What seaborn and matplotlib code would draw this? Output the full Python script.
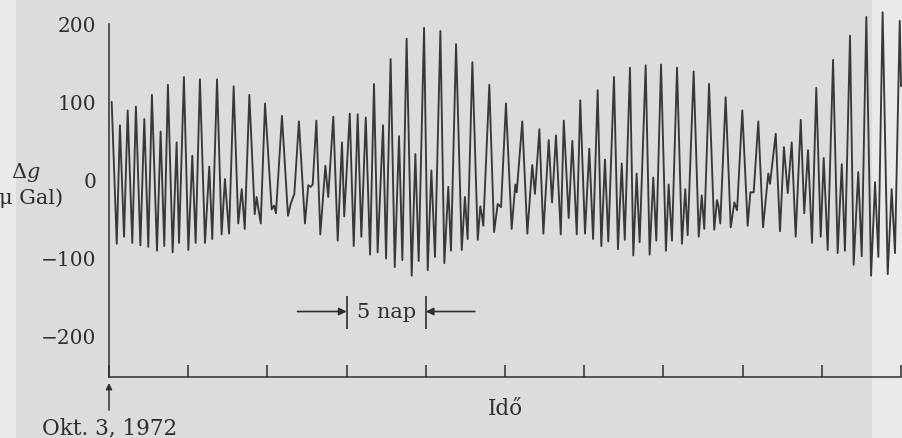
import pandas as pd
import matplotlib.pyplot as plt
import seaborn as sns
from matplotlib.patches import Rectangle

# tidal gravity record (time in days from Okt. 3)
days = [
    0.17, 0.49, 0.69, 0.95, 1.18, 1.47, 1.70, 1.98, 2.23, 2.48,
    2.71, 3.03, 3.26, 3.49, 3.72, 4.02, 4.27, 4.42, 4.73, 5.01,
    5.26, 5.47, 5.74, 6.06, 6.33, 6.52, 6.82, 7.11, 7.32, 7.58,
    7.87, 8.16, 8.38, 8.57, 8.86, 9.20, 9.32, 9.58, 9.85, 10.27,
    10.42, 10.54, 10.92, 11.30, 11.47, 11.70, 11.99, 12.37, 12.58, 12.73,
    12.86, 13.09, 13.34, 13.66, 13.84, 14.16, 14.44, 14.71, 14.85, 15.20,
    15.45, 15.70, 15.93, 16.21, 16.48, 16.73, 16.96, 17.30, 17.49, 17.78,
    18.04, 18.31, 18.52, 18.79, 19.11, 19.34, 19.55, 19.89, 20.12, 20.35,
    20.58, 20.92, 21.17, 21.42, 21.59, 21.91, 22.27, 22.47, 22.54, 22.64,
    22.94, 23.28, 23.44, 23.53, 23.63, 24.01, 24.31, 24.54, 24.75, 25.06,
    25.42, 25.65, 25.74, 26.09, 26.41, 26.72, 26.89, 27.17, 27.42, 27.76,
    27.97, 28.22, 28.52, 28.71, 29.02, 29.25, 29.53, 29.75, 30.05, 30.32,
    30.56, 30.85, 31.08, 31.31, 31.52, 31.88, 32.13, 32.37, 32.56, 32.89,
    33.10, 33.31, 33.50, 33.88, 34.13, 34.36, 34.55, 34.85, 35.16, 35.33,
    35.54, 35.86, 36.17, 36.38, 36.53, 36.91, 37.23, 37.42, 37.58, 37.88,
    38.21, 38.38, 38.47, 38.59, 38.93, 39.25, 39.48, 39.65, 39.98, 40.32,
    40.49, 40.70, 40.99, 41.29, 41.62, 41.73, 42.09, 42.36, 42.61, 42.85,
    43.10, 43.35, 43.67, 43.89, 44.13, 44.38, 44.65, 44.93, 45.12, 45.37,
    45.71, 46.00, 46.26, 46.46, 46.78, 47.01, 47.30, 47.52, 47.81, 48.11,
    48.36, 48.57, 48.84, 49.16, 49.41, 49.62, 49.92, 50.00,
]
delta_g = [
    100, -82, 70, -73, 89, -81, 94, -84, 78, -86,
    109, -91, 62, -85, 122, -93, 48, -81, 132, -90,
    31, -81, 129, -81, 17, -76, 129, -70, 1, -69,
    120, -56, -12, -63, 109, -44, -22, -56, 98, -38,
    -33, -43, 82, -46, -31, -18, 75, -56, -7, -9,
    -6, 76, -70, 18, -22, 81, -78, 48, -47, 85,
    -85, 84, -73, 80, -96, 123, -93, 70, -101, 155,
    -112, 56, -103, 181, -123, 33, -104, 195, -116, 12,
    -99, 191, -107, -9, -91, 174, -90, -22, -44, -76,
    151, -77, -34, -44, -59, 122, -67, -31, -35, 98,
    -63, -6, -16, 75, -69, 19, -18, 65, -69, 51,
    -29, 57, -70, 76, -49, 50, -70, 102, -69, 40,
    -76, 115, -85, 26, -79, 132, -89, 21, -77, 144,
    -97, 8, -80, 147, -96, 3, -78, 148, -91, -6,
    -78, 144, -82, -12, -71, 139, -73, -20, -63, 123,
    -64, -26, -33, -56, 106, -61, -29, -39, 89, -59,
    -16, -16, 75, -61, 8, -5, 59, -66, 42, -17,
    48, -73, 77, -43, 38, -81, 118, -73, 28, -90,
    154, -94, 20, -91, 185, -109, 10, -98, 209, -123,
    -3, -99, 215, -121, -12, -94, 204, 120,
]
y_ticks = [-200, -100, 0, 100, 200]
x_ticks = [0, 5, 10, 15, 20, 25, 30, 35, 40, 45, 50]
scale_bar = [15, 20]  # the "5 nap" bracket

df = pd.DataFrame({"nap": days, "dg": delta_g})

sns.set_theme(style="white")
plt.rcParams["font.family"] = ["DejaVu Serif"]
plt.rcParams["mathtext.fontset"] = "dejavuserif"

ink = "#2e2e2e"
paper = "#dcdcda"
paper_light = "#eaeae8"

fig = plt.figure(figsize=(9.03, 4.39), dpi=100, facecolor=paper)
# lighter scan strips at the page edges
fig.add_artist(Rectangle((0, 0), 16 / 903, 1, transform=fig.transFigure,
                         facecolor=paper_light, edgecolor="none", zorder=-1))
fig.add_artist(Rectangle((872 / 903, 0), 31 / 903, 1, transform=fig.transFigure,
                         facecolor=paper_light, edgecolor="none", zorder=-1))

ax = fig.add_axes([0.1207, 0.139, 0.8771, 0.8041])
ax.set_facecolor("none")

sns.lineplot(data=df, x="nap", y="dg", estimator=None, sort=False,
             color="#383838", lw=1.35, ax=ax)
ax.lines[0].set_clip_on(False)

ax.set_xlim(0, 50)
ax.set_ylim(-253, 200)
ax.set_yticks(y_ticks)
ax.set_xticks(x_ticks)
ax.set_xticklabels([])
ax.tick_params(axis="both", direction="in", length=8.5, width=1.1, color=ink,
               labelsize=14.5, labelcolor=ink)
ax.tick_params(axis="y", pad=9)
ax.tick_params(axis="x", bottom=True)
for side in ["top", "right"]:
    ax.spines[side].set_visible(False)
for side in ["left", "bottom"]:
    ax.spines[side].set_color(ink)
    ax.spines[side].set_linewidth(1.1)

ax.set_xlabel("Idő", fontsize=15.5, color=ink, labelpad=11)
ax.set_ylabel("")

# y axis label, in two lines at the left edge
fig.text(26 / 903, 1 - 178 / 439, r"$\Delta g$", fontsize=15, color=ink,
         ha="center", va="baseline")
fig.text(63 / 903, 1 - 204 / 439, "(μ Gal)", fontsize=15, color=ink,
         ha="right", va="baseline")

# 5 day scale bracket
ax.vlines(scale_bar, -191, -149, color=ink, lw=1.2)
arrow = dict(arrowstyle="-|>", color=ink, lw=1.2, mutation_scale=11,
             shrinkA=0, shrinkB=0)
ax.annotate("", xy=(scale_bar[0], -169), xytext=(scale_bar[0] - 3.1, -169),
            arrowprops=arrow)
ax.annotate("", xy=(scale_bar[1], -169), xytext=(scale_bar[1] + 3.1, -169),
            arrowprops=arrow)
ax.text(sum(scale_bar) / 2, -169, "5 nap", fontsize=15, color=ink,
        ha="center", va="center")

# start date marker
ax.annotate("", xy=(109, 439 - 384), xytext=(109, 439 - 411),
            xycoords="figure pixels", textcoords="figure pixels",
            arrowprops=dict(arrowstyle="-|>", color=ink, lw=1.1,
                            mutation_scale=9, shrinkA=0, shrinkB=0))
fig.text(42 / 903, 1 - 434 / 439, "Okt. 3, 1972", fontsize=15.5, color=ink,
         ha="left", va="baseline")

fig.savefig("out.png", dpi=100, facecolor=paper)
